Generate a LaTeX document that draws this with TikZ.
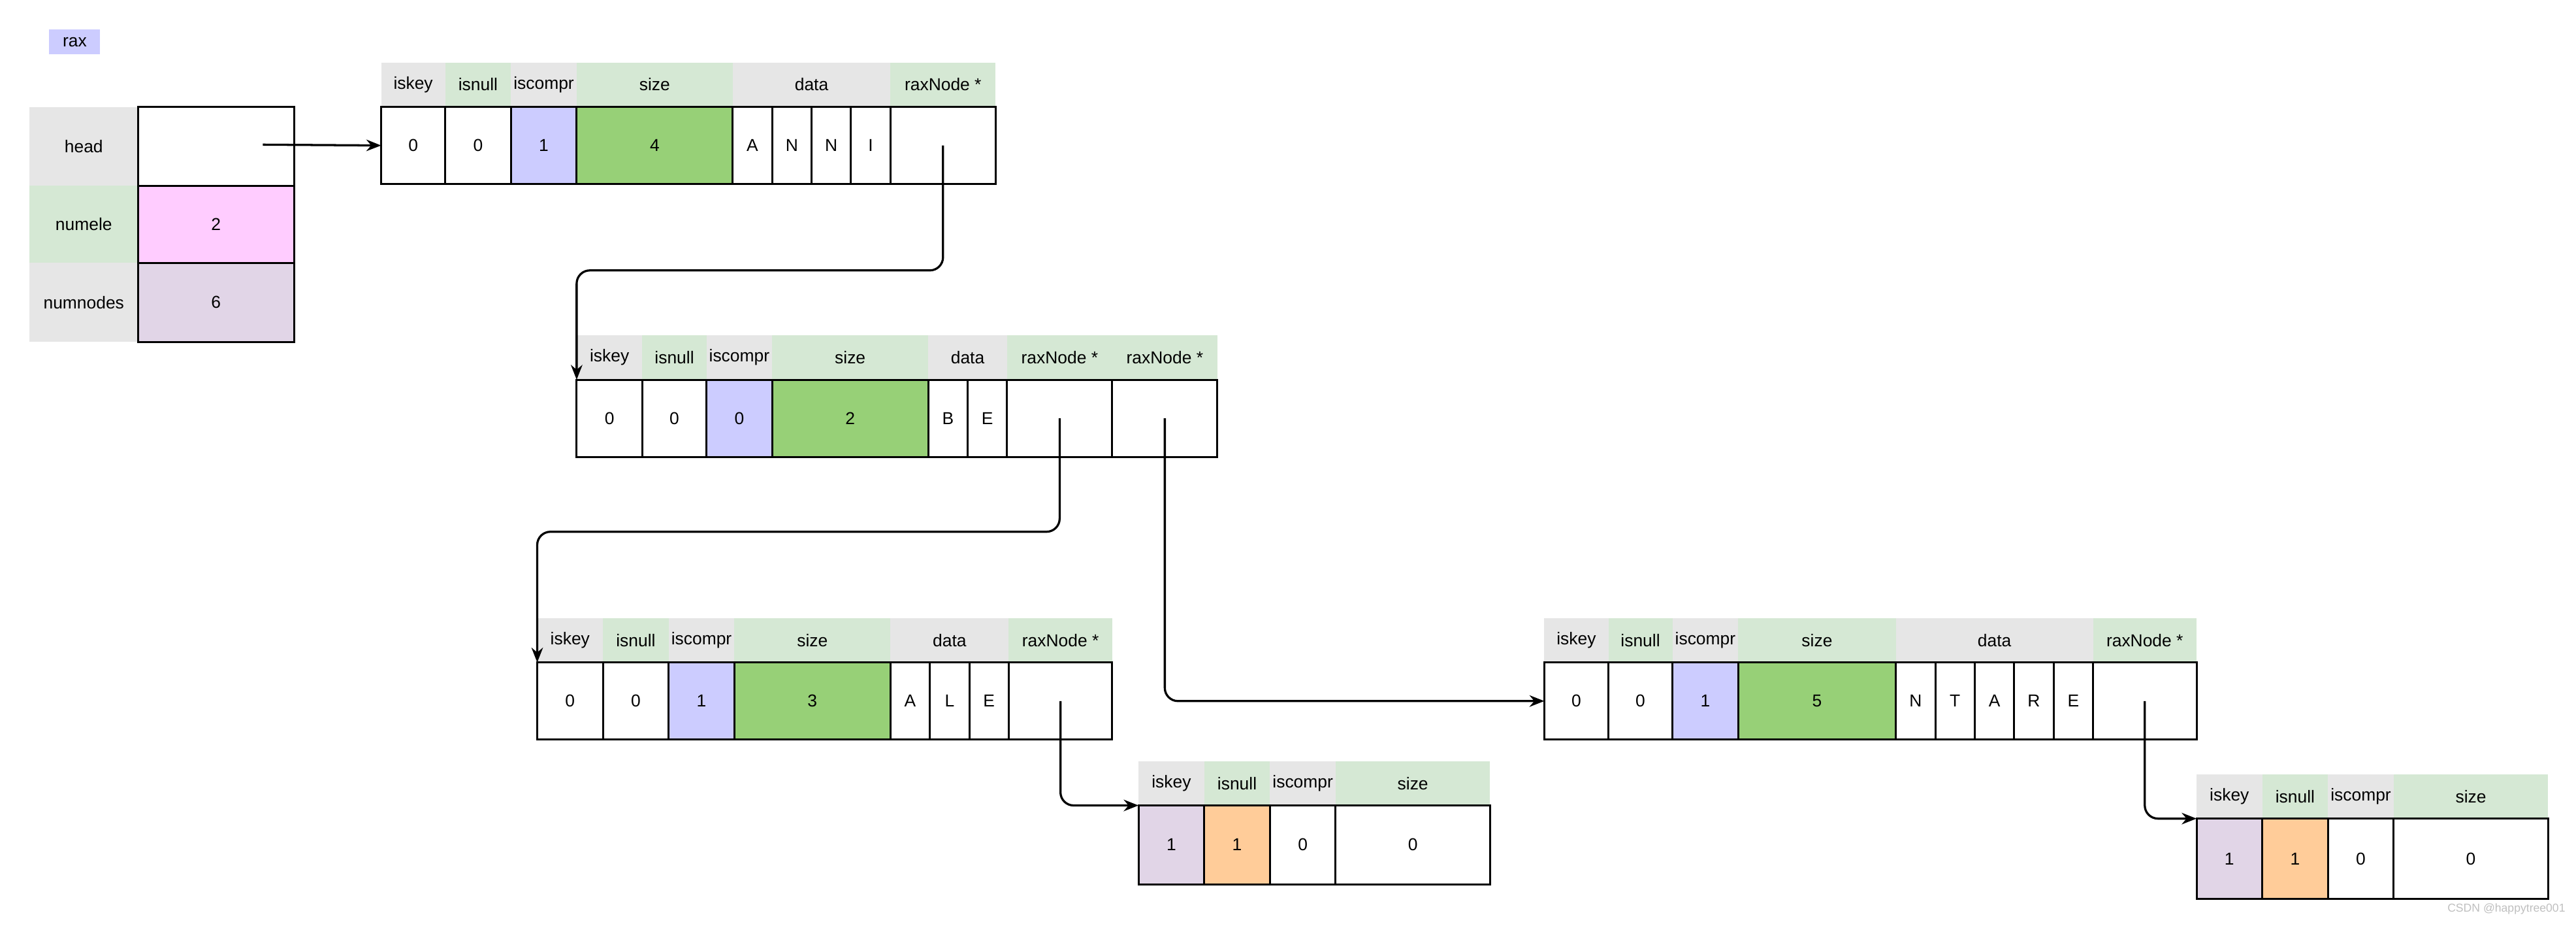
\documentclass[tikz,border=0pt]{standalone}
\usepackage{fontspec}
\setmainfont{Liberation Sans}
\usetikzlibrary{arrows.meta}
\definecolor{hg}{HTML}{E6E6E6}
\definecolor{hgr}{HTML}{D5E8D4}
\definecolor{lav}{HTML}{CCCCFF}
\definecolor{grn}{HTML}{97D077}
\definecolor{pnk}{HTML}{FFCCFF}
\definecolor{pur}{HTML}{E1D5E7}
\definecolor{org}{HTML}{FFCC99}
\newcommand\bx[7]{%
 \pgfmathsetmacro\bw{#5-#3}\pgfmathsetmacro\bh{#6-#4}%
 \node[#1,minimum width=\bw pt,minimum height=\bh pt,inner sep=0pt,outer sep=0pt,anchor=north west] (#2) at (#3,#4) {#7};}
\tikzset{
 b/.style={draw=black,line width=1.2pt},
 H/.style={fill=hg},
 G/.style={fill=hgr},
 arr/.style={line width=1.3pt,rounded corners=8pt,-{Stealth[length=9pt,width=7pt]}},
}
\begin{document}
\begin{tikzpicture}[x=1pt,y=-1pt,font=\fontsize{10.5}{12}\selectfont]
\useasboundingbox (0,0) rectangle (1568,563);
% rax
\bx{fill=lav}{rax}{30}{18}{61}{33}{rax}
\bx{H}{lh}{18}{65}{84}{113}{head}
\bx{G}{ln}{18}{113}{84}{160}{numele}
\bx{H}{lm}{18}{160}{84}{208}{numnodes}
\bx{b}{vh}{84}{65}{179}{113}{}
\bx{b,fill=pnk}{vn}{84}{113}{179}{160}{2}
\bx{b,fill=pur}{vm}{84}{160}{179}{208}{6}
\coordinate (hs) at (160,88);
% node1
\bx{H}{a1}{232}{38}{271}{65}{iskey}
\bx{G}{a2}{271}{38}{311}{65}{isnull}
\bx{H}{a3}{311}{38}{351}{65}{iscompr}
\bx{G}{a4}{351}{38}{446}{65}{size}
\bx{H}{a5}{446}{38}{542}{65}{data}
\bx{G}{a6}{542}{38}{606}{65}{raxNode *}
\bx{b}{n1a}{232}{65}{271}{112}{0}
\bx{b}{n1b}{271}{65}{311}{112}{0}
\bx{b,fill=lav}{n1c}{311}{65}{351}{112}{1}
\bx{b,fill=grn}{n1d}{351}{65}{446}{112}{4}
\bx{b}{n1e}{446}{65}{470}{112}{A}
\bx{b}{n1f}{470}{65}{494}{112}{N}
\bx{b}{n1g}{494}{65}{518}{112}{N}
\bx{b}{n1h}{518}{65}{542}{112}{I}
\bx{b}{p1}{542}{65}{606}{112}{}
% node2
\bx{H}{c1}{351}{204}{391}{231}{iskey}
\bx{G}{c2}{391}{204}{430}{231}{isnull}
\bx{H}{c3}{430}{204}{470}{231}{iscompr}
\bx{G}{c4}{470}{204}{565}{231}{size}
\bx{H}{c5}{565}{204}{613}{231}{data}
\bx{G}{c6}{613}{204}{677}{231}{raxNode *}
\bx{G}{c7}{677}{204}{741}{231}{raxNode *}
\bx{b}{n2a}{351}{231}{391}{278}{0}
\bx{b}{n2b}{391}{231}{430}{278}{0}
\bx{b,fill=lav}{n2c}{430}{231}{470}{278}{0}
\bx{b,fill=grn}{n2d}{470}{231}{565}{278}{2}
\bx{b}{n2e}{565}{231}{589}{278}{B}
\bx{b}{n2f}{589}{231}{613}{278}{E}
\bx{b}{p2}{613}{231}{677}{278}{}
\bx{b}{p3}{677}{231}{741}{278}{}
% node3
\bx{H}{d1}{327}{376}{367}{403}{iskey}
\bx{G}{d2}{367}{376}{407}{403}{isnull}
\bx{H}{d3}{407}{376}{447}{403}{iscompr}
\bx{G}{d4}{447}{376}{542}{403}{size}
\bx{H}{d5}{542}{376}{614}{403}{data}
\bx{G}{d6}{614}{376}{677}{403}{raxNode *}
\bx{b}{n3a}{327}{403}{367}{450}{0}
\bx{b}{n3b}{367}{403}{407}{450}{0}
\bx{b,fill=lav}{n3c}{407}{403}{447}{450}{1}
\bx{b,fill=grn}{n3d}{447}{403}{542}{450}{3}
\bx{b}{n3e}{542}{403}{566}{450}{A}
\bx{b}{n3f}{566}{403}{590}{450}{L}
\bx{b}{n3g}{590}{403}{614}{450}{E}
\bx{b}{p4}{614}{403}{677}{450}{}
% node4
\bx{H}{e1}{940}{376}{979}{403}{iskey}
\bx{G}{e2}{979}{376}{1018}{403}{isnull}
\bx{H}{e3}{1018}{376}{1058}{403}{iscompr}
\bx{G}{e4}{1058}{376}{1154}{403}{size}
\bx{H}{e5}{1154}{376}{1274}{403}{data}
\bx{G}{e6}{1274}{376}{1337}{403}{raxNode *}
\bx{b}{n4a}{940}{403}{979}{450}{0}
\bx{b}{n4b}{979}{403}{1018}{450}{0}
\bx{b,fill=lav}{n4c}{1018}{403}{1058}{450}{1}
\bx{b,fill=grn}{n4d}{1058}{403}{1154}{450}{5}
\bx{b}{n4e}{1154}{403}{1178}{450}{N}
\bx{b}{n4f}{1178}{403}{1202}{450}{T}
\bx{b}{n4g}{1202}{403}{1226}{450}{A}
\bx{b}{n4h}{1226}{403}{1250}{450}{R}
\bx{b}{n4i}{1250}{403}{1274}{450}{E}
\bx{b}{p5}{1274}{403}{1337}{450}{}
% node5
\bx{H}{f1}{693}{463}{733}{490}{iskey}
\bx{G}{f2}{733}{463}{773}{490}{isnull}
\bx{H}{f3}{773}{463}{813}{490}{iscompr}
\bx{G}{f4}{813}{463}{907}{490}{size}
\bx{b,fill=pur}{n5a}{693}{490}{733}{538}{1}
\bx{b,fill=org}{n5b}{733}{490}{773}{538}{1}
\bx{b}{n5c}{773}{490}{813}{538}{0}
\bx{b}{n5d}{813}{490}{907}{538}{0}
% node6
\bx{H}{g1}{1337}{471}{1377}{498}{iskey}
\bx{G}{g2}{1377}{471}{1417}{498}{isnull}
\bx{H}{g3}{1417}{471}{1457}{498}{iscompr}
\bx{G}{g4}{1457}{471}{1551}{498}{size}
\bx{b,fill=pur}{n6a}{1337}{498}{1377}{547}{1}
\bx{b,fill=org}{n6b}{1377}{498}{1417}{547}{1}
\bx{b}{n6c}{1417}{498}{1457}{547}{0}
\bx{b}{n6d}{1457}{498}{1551}{547}{0}
% arrows
\draw[arr] (hs) -- (n1a.west);
\draw[arr] (p1.center) -- ++(0,76) -| (n2a.north west);
\draw[arr] (p2.center) -- ++(0,69) -| (n3a.north west);
\draw[arr] (p3.center) |- (n4a.west);
\draw[arr] (p4.center) |- (n5a.north west);
\draw[arr] (p5.center) |- (n6a.north west);
\node[text=black!25,font=\fontsize{7}{8}\selectfont,anchor=east] (wm) at (1565,553) {CSDN @happytree001};
\end{tikzpicture}
\end{document}
